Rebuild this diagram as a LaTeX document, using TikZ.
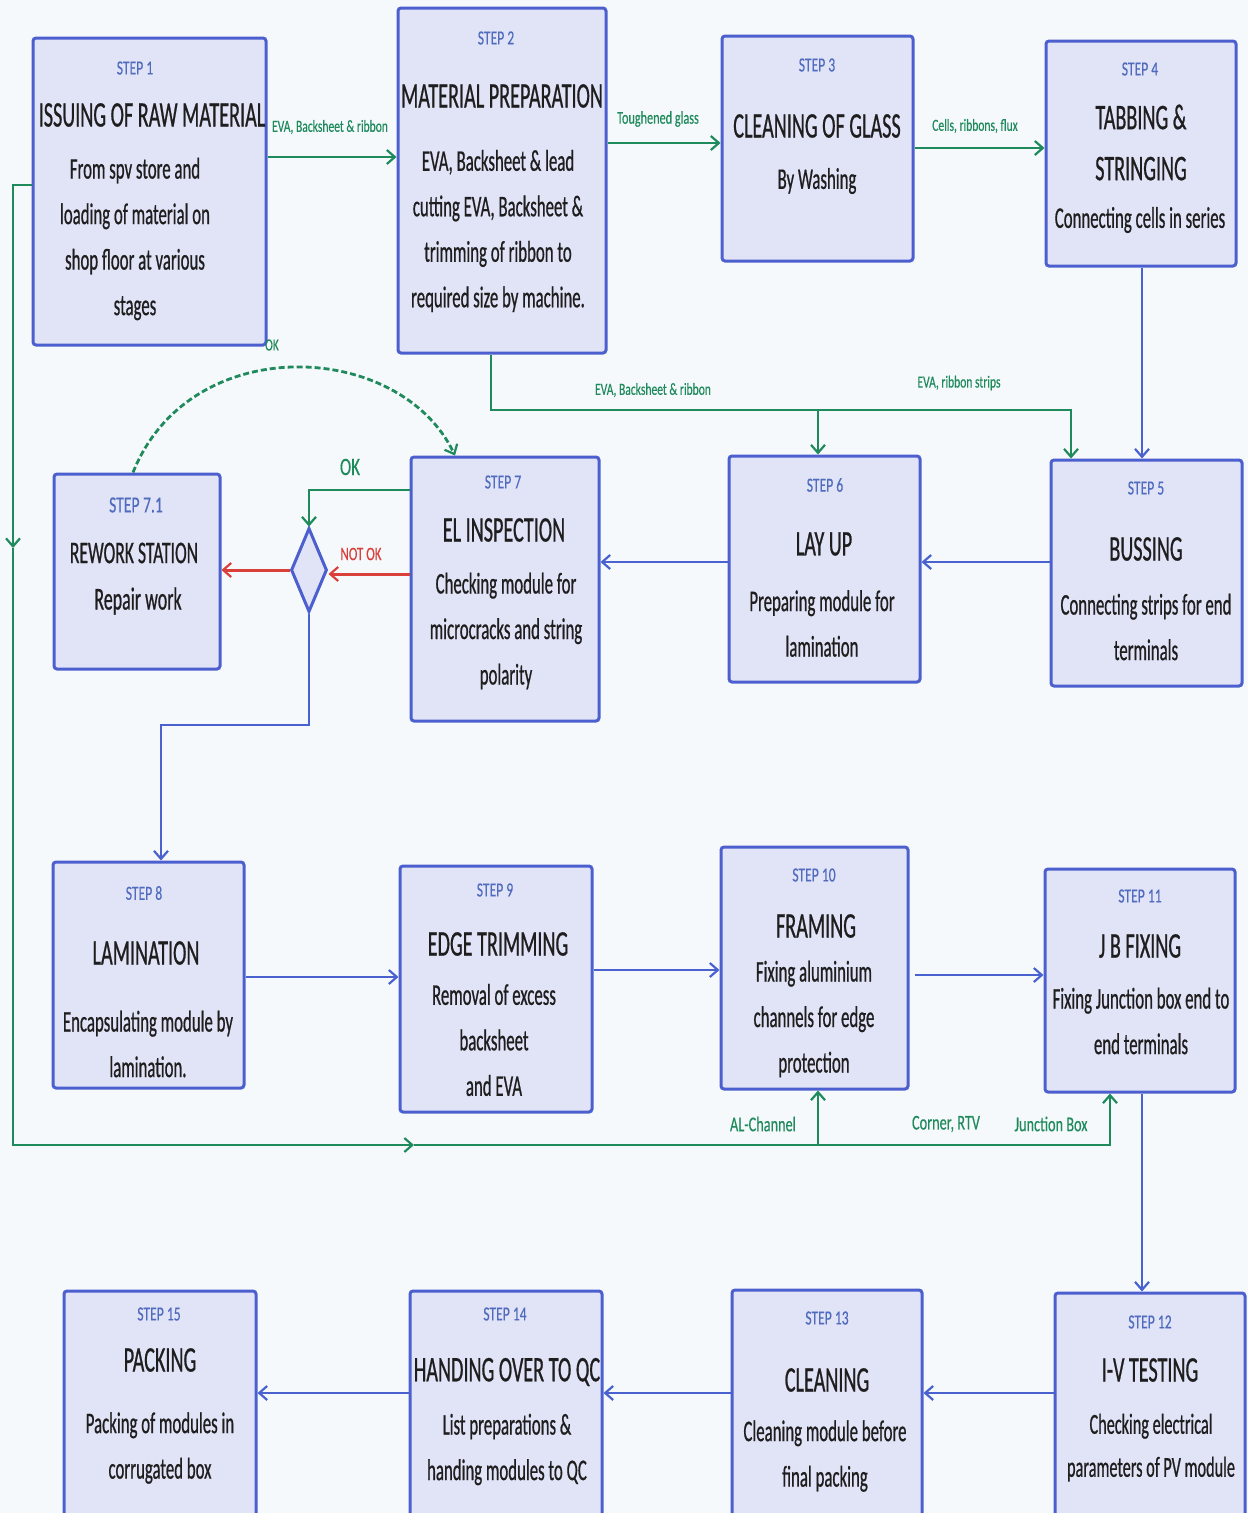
\documentclass[tikz,border=0pt]{standalone}
\usepackage{fontspec}
\setmainfont[FakeStretch=0.56,FakeBold=0.6]{Carlito}
\newfontfamily\lblfont[FakeStretch=0.68,FakeBold=0.3]{Carlito}
\usetikzlibrary{arrows.meta,shapes.geometric}
\definecolor{bg}{HTML}{F6F9FC}
\definecolor{boxfill}{HTML}{E1E3F7}
\definecolor{boxline}{HTML}{4C5FCF}
\definecolor{steplbl}{HTML}{4F6BBD}
\definecolor{flowgreen}{HTML}{1F8A5C}
\definecolor{flowred}{HTML}{D9403A}
\definecolor{flowblue}{HTML}{4A62CF}
\definecolor{txt}{HTML}{1E1E1E}
\tikzset{
  stepbox/.style={draw=boxline, line width=3pt, fill=boxfill, rounded corners=3pt, inner sep=0pt, rectangle},
  lbl/.style={font=\lblfont\fontsize{20}{24}\selectfont, text=steplbl, inner sep=0pt},
  ttl/.style={font=\fontsize{36}{51}\selectfont, text=txt, align=center, inner sep=0pt},
  bdy/.style={font=\fontsize{30}{45.5}\selectfont, text=txt, align=center, inner sep=0pt},
  elbl/.style={font=\lblfont\fontsize{17}{20}\selectfont, text=flowgreen, inner sep=0pt},
  glbl/.style={font=\lblfont\fontsize{21}{24}\selectfont, text=flowgreen, inner sep=0pt},
  tip/.style={-{Straight Barb[length=8pt,width=14pt,line width=2.2pt]}},
  gline/.style={draw=flowgreen, line width=2.8pt},
  bline/.style={draw=flowblue, line width=2.5pt},
  rline/.style={draw=flowred, line width=3pt},
}
\begin{document}
\begin{tikzpicture}[x=1pt,y=-1pt]
\fill[bg] (0,0) rectangle (1248,1513);
\useasboundingbox (0,0) rectangle (1248,1513);

% boxes
\node[stepbox, minimum width=233pt, minimum height=307pt] (s1) at (149.5,191.5) {};
\node[stepbox, minimum width=208pt, minimum height=345pt] (s2) at (502,180.5) {};
\node[stepbox, minimum width=191pt, minimum height=225pt] (s3) at (817.5,148.5) {};
\node[stepbox, minimum width=190pt, minimum height=225pt] (s4) at (1141,153.5) {};
\node[stepbox, minimum width=191pt, minimum height=226pt] (s5) at (1146.5,573) {};
\node[stepbox, minimum width=191pt, minimum height=226pt] (s6) at (824.5,569) {};
\node[stepbox, minimum width=188pt, minimum height=264pt] (s7) at (505,589) {};
\node[stepbox, minimum width=166pt, minimum height=195pt] (s71) at (137,571.5) {};
\node[draw=boxline, line width=3pt, fill=boxfill, diamond, inner sep=0pt, minimum width=36pt, minimum height=84pt] (dia) at (309,570) {};
\node[stepbox, minimum width=191pt, minimum height=226pt] (s8) at (148.5,975) {};
\node[stepbox, minimum width=192pt, minimum height=246pt] (s9) at (496,989) {};
\node[stepbox, minimum width=187pt, minimum height=242pt] (s10) at (814.5,968) {};
\node[stepbox, minimum width=190pt, minimum height=223pt] (s11) at (1140,980.5) {};
\node[stepbox, minimum width=190pt, minimum height=232pt] (s12) at (1150,1409) {};
\node[stepbox, minimum width=190pt, minimum height=235pt] (s13) at (827,1407.5) {};
\node[stepbox, minimum width=192pt, minimum height=234pt] (s14) at (506,1408) {};
\node[stepbox, minimum width=192pt, minimum height=234pt] (s15) at (160,1408) {};

% texts
\node[lbl] (s1a) at (135,68) {STEP 1};
\node[ttl] (s1b) at (152,115) {ISSUING OF RAW MATERIAL};
\node[bdy] (s1c) at (135,239) {From spv store and\\loading of material on\\shop floor at various\\stages};

\node[lbl] (s2a) at (496,38) {STEP 2};
\node[ttl] (s2b) at (502,96) {MATERIAL PREPARATION};
\node[bdy] (s2c) at (498,231) {EVA, Backsheet \& lead\\cutting EVA, Backsheet \&\\trimming of ribbon to\\required size by machine.};

\node[lbl] (s3a) at (817,65) {STEP 3};
\node[ttl] (s3b) at (817,126) {CLEANING OF GLASS};
\node[bdy] (s3c) at (817,181) {By Washing};

\node[lbl] (s4a) at (1140,69) {STEP 4};
\node[ttl] (s4b) at (1141,142.5) {TABBING \&\\STRINGING};
\node[bdy] (s4c) at (1140,220) {Connecting cells in series};

\node[lbl] (s5a) at (1146,488) {STEP 5};
\node[ttl] (s5b) at (1146,549) {BUSSING};
\node[bdy] (s5c) at (1146,627) {Connecting strips for end\\terminals};

\node[lbl] (s6a) at (825,485) {STEP 6};
\node[ttl] (s6b) at (824,544) {LAY UP};
\node[bdy] (s6c) at (822,623.5) {Preparing module for\\lamination};

\node[lbl] (s7a) at (503,482) {STEP 7};
\node[ttl] (s7b) at (504,530) {EL INSPECTION};
\node[bdy] (s7c) at (506,631) {Checking module for\\microcracks and string\\polarity};

\node[lbl, font=\lblfont\fontsize{23}{26}\selectfont] (s71a) at (136,505) {STEP 7.1};
\node[ttl, font=\fontsize{31.5}{36}\selectfont] (s71b) at (134,553) {REWORK STATION};
\node[bdy, font=\fontsize{32}{36}\selectfont] (s71c) at (138,601) {Repair work};

\node[lbl] (s8a) at (144,893) {STEP 8};
\node[ttl] (s8b) at (146,953) {LAMINATION};
\node[bdy] (s8c) at (148,1044) {Encapsulating module by\\lamination.};

\node[lbl] (s9a) at (495,890) {STEP 9};
\node[ttl] (s9b) at (498,944) {EDGE TRIMMING};
\node[bdy] (s9c) at (494,1040) {Removal of excess\\backsheet\\and EVA};

\node[lbl] (s10a) at (814,875) {STEP 10};
\node[ttl] (s10b) at (816,926) {FRAMING};
\node[bdy] (s10c) at (814,1019) {Fixing aluminium\\channels for edge\\protection};

\node[lbl] (s11a) at (1140,896) {STEP 11};
\node[ttl] (s11b) at (1140,946) {J B FIXING};
\node[bdy] (s11c) at (1141,1021) {Fixing Junction box end to\\end terminals};

\node[lbl] (s12a) at (1150,1322) {STEP 12};
\node[ttl] (s12b) at (1150,1370) {I-V TESTING};
\node[bdy, font=\fontsize{29}{43}\selectfont] (s12c) at (1151,1447.5) {Checking electrical\\parameters of PV module};

\node[lbl] (s13a) at (827,1318) {STEP 13};
\node[ttl] (s13b) at (827,1380) {CLEANING};
\node[bdy] (s13c) at (825,1456) {Cleaning module before\\final packing};

\node[lbl] (s14a) at (505,1314) {STEP 14};
\node[ttl] (s14b) at (507,1372) {HANDING OVER TO QC};
\node[bdy] (s14c) at (507,1449.5) {List preparations \&\\handing modules to QC};

\node[lbl] (s15a) at (159,1314) {STEP 15};
\node[ttl] (s15b) at (160,1360) {PACKING};
\node[bdy] (s15c) at (160,1448) {Packing of modules in\\corrugated box};

% top row green connectors
\draw[gline, tip] (s1.east |- 0,157) -- (s2.west |- 0,157);
\node[elbl] (e1) at (330,127) {EVA, Backsheet \& ribbon};
\draw[gline, tip] (s2.east |- 0,143) -- (s3.west |- 0,143);
\node[elbl, font=\lblfont\fontsize{18}{20}\selectfont] (e2) at (658,119) {Toughened glass};
\draw[gline, tip] (s3.east |- 0,148) -- (s4.west |- 0,148);
\node[elbl] (e3) at (975,126) {Cells, ribbons, flux};

% step 4 -> step 5
\draw[bline, tip] (s4.south -| 1142,0) -- (s5.north -| 1142,0);

% green distribution from step 2
\coordinate (ga) at (491,410);
\coordinate (gb) at (1071,410);
\coordinate (gc) at (818,410);
\draw[gline, tip] (s2.south -| ga) -- (ga) -- (gb) -- (s5.north -| gb);
\draw[gline, tip] (gc) -- (s6.north -| gc);
\node[elbl] (e4) at (653,390) {EVA, Backsheet \& ribbon};
\node[elbl] (e5) at (959,383) {EVA, ribbon strips};

% middle row
\draw[bline, tip] (s5.west |- 0,562) -- (s6.east |- 0,562);
\draw[bline, tip] (s6.west |- 0,562) -- (s7.east |- 0,562);
\draw[gline, tip] (s7.west |- 0,490) -- (dia.north |- 0,490) -- (dia.north);
\node[glbl, font=\lblfont\fontsize{25}{28}\selectfont] (ok1) at (350,467) {OK};
\draw[rline, tip] (s7.west |- 0,574) -- (dia.east |- 0,574);
\node[glbl, font=\lblfont\fontsize{19}{22}\selectfont, text=flowred] (nok) at (361,554) {NOT OK};
\draw[rline, tip] (dia.west) -- (s71.east |- dia.west);
\draw[gline, dashed, dash pattern=on 6pt off 3pt, tip] (s71.north -| 133,0) .. controls (190,330) and (400,340) .. (s7.north -| 455,0);
\node[elbl] (ok2) at (272,345) {OK};

% diamond -> lamination
\coordinate (ba) at (309,725);
\coordinate (bb) at (161,725);
\draw[bline, tip] (dia.south) -- (ba) -- (bb) -- (s8.north -| bb);

% row 3
\draw[bline, tip] (s8.east |- 0,977) -- (s9.west |- 0,977);
\draw[bline, tip] (s9.east |- 0,970) -- (s10.west |- 0,970);
\draw[bline, tip] (915,975) -- (s11.west |- 0,975);

% step 11 -> step 12
\draw[bline, tip] (s11.south -| 1142,0) -- (s12.north -| 1142,0);

% bottom row
\draw[bline, tip] (s12.west |- 0,1393) -- (s13.east |- 0,1393);
\draw[bline, tip] (s13.west |- 0,1393) -- (s14.east |- 0,1393);
\draw[bline, tip] (s14.west |- 0,1393) -- (s15.east |- 0,1393);

% green supply loop
\coordinate (g1) at (13,185);
\coordinate (g2) at (13,548);
\coordinate (g3) at (13,1145);
\coordinate (g4) at (414,1145);
\coordinate (g5) at (1110,1145);
\coordinate (g6) at (818,1145);
\draw[gline, tip] (s1.west |- g1) -- (g1) -- (g2);
\draw[gline, tip] (g2) -- (g3) -- (g4);
\draw[gline, tip] (g4) -- (g5) -- (s11.south -| g5);
\draw[gline, tip] (g6) -- (s10.south -| g6);
\node[glbl] (e6) at (763,1124) {AL-Channel};
\node[glbl] (e7) at (946,1124) {Corner, RTV};
\node[glbl] (e8) at (1051,1124) {Junction Box};
\end{tikzpicture}
\end{document}
